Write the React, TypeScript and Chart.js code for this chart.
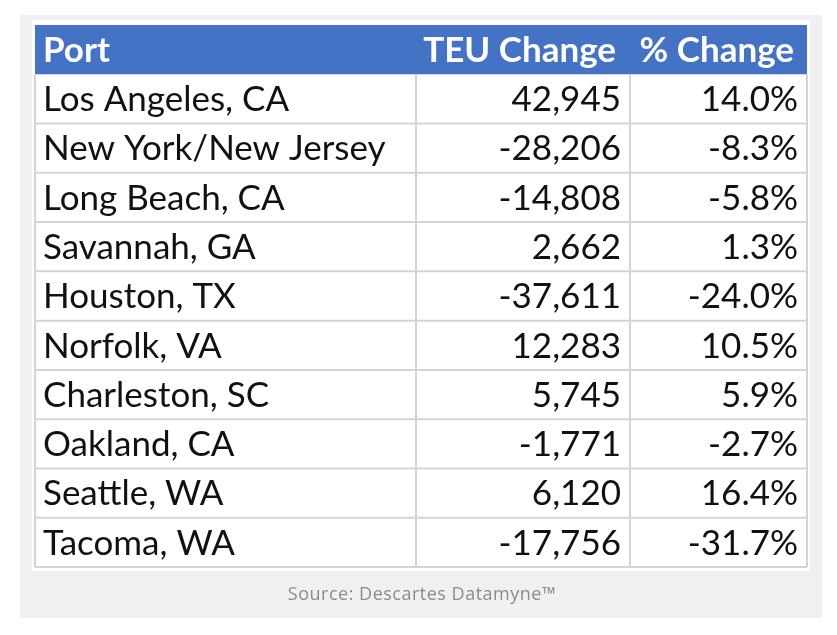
import { useEffect, useRef } from "react";
import { Chart, registerables } from "chart.js";

Chart.register(...registerables);

const headers = ["Port", "TEU Change", "% Change"];
const ports = [
  "Los Angeles, CA",
  "New York/New Jersey",
  "Long Beach, CA",
  "Savannah, GA",
  "Houston, TX",
  "Norfolk, VA",
  "Charleston, SC",
  "Oakland, CA",
  "Seattle, WA",
  "Tacoma, WA",
];
const teuChange = [42945, -28206, -14808, 2662, -37611, 12283, 5745, -1771, 6120, -17756];
const pctChange = [14.0, -8.3, -5.8, 1.3, -24.0, 10.5, 5.9, -2.7, 16.4, -31.7];
const sourceText = "Source: Descartes Datamyne\u2122";

// layout (not data): column edges in x-scale units
const COL_EDGES = [0, 381, 595, 772];
const FONT = "Lato, 'Open Sans', sans-serif";

const fmtTeu = (v: number) => v.toLocaleString("en-US");
const fmtPct = (v: number) => v.toFixed(1) + "%";

const tablePlugin = {
  id: "tablePlugin",
  beforeDraw(chart: any) {
    const { ctx, width, height } = chart;
    ctx.save();
    ctx.fillStyle = "#ffffff";
    ctx.fillRect(0, 0, width, height);
    ctx.fillStyle = "#f0f0f0";
    ctx.fillRect(20, 15, 802, 603);
    ctx.fillStyle = "#ffffff";
    ctx.fillRect(32, 20, 778, 551);
    ctx.restore();
  },
  afterDatasetsDraw(chart: any) {
    const { ctx } = chart;
    const xs = chart.scales.x;
    const ys = chart.scales.y;
    const nRows = ports.length + 1;
    const colPx = COL_EDGES.map((v) => xs.getPixelForValue(v));
    const rowPx = Array.from({ length: nRows + 1 }, (_, i) => ys.getPixelForValue(i));
    const left = colPx[0];
    const right = colPx[colPx.length - 1];

    ctx.save();
    // header
    ctx.fillStyle = "#4472c4";
    ctx.fillRect(left, rowPx[0], right - left, rowPx[1] - rowPx[0]);

    // grid lines
    ctx.strokeStyle = "#d4d4d4";
    ctx.lineWidth = 2;
    ctx.beginPath();
    for (let i = 2; i <= nRows; i++) {
      ctx.moveTo(left, rowPx[i]);
      ctx.lineTo(right, rowPx[i]);
    }
    for (let c = 0; c < colPx.length; c++) {
      ctx.moveTo(colPx[c], rowPx[1]);
      ctx.lineTo(colPx[c], rowPx[nRows]);
    }
    ctx.stroke();

    // header text
    const midY = (i: number) => (rowPx[i] + rowPx[i + 1]) / 2 + 1;
    ctx.textBaseline = "middle";
    ctx.fillStyle = "#ffffff";
    ctx.font = `bold 35px ${FONT}`;
    ctx.textAlign = "left";
    ctx.fillText(headers[0], colPx[0] + 8, midY(0));
    ctx.textAlign = "right";
    ctx.fillText(headers[1], colPx[2] - 14, midY(0));
    ctx.fillText(headers[2], colPx[3] - 13, midY(0));

    // body
    ctx.fillStyle = "#111111";
    ctx.font = `35px ${FONT}`;
    for (let r = 0; r < ports.length; r++) {
      const y = midY(r + 1);
      ctx.textAlign = "left";
      ctx.fillText(ports[r], colPx[0] + 8, y);
      ctx.textAlign = "right";
      ctx.fillText(fmtTeu(teuChange[r]), colPx[2] - 9, y);
      ctx.fillText(fmtPct(pctChange[r]), colPx[3] - 9, y);
    }

    // source
    ctx.fillStyle = "#8c8c8c";
    ctx.font = `18px 'Open Sans', sans-serif`;
    (ctx as any).letterSpacing = "0.5px";
    ctx.textAlign = "center";
    ctx.fillText(sourceText, 422, 595);
    ctx.restore();
  },
};

export default function App() {
  const ref = useRef<HTMLCanvasElement | null>(null);
  useEffect(() => {
    if (!ref.current) return;
    const chart = new Chart(ref.current, {
      type: "scatter",
      data: {
        datasets: [
          {
            data: ports.map((_, i) => ({ x: COL_EDGES[0], y: i + 1 })),
            pointRadius: 0,
          },
        ],
      },
      options: {
        responsive: false,
        animation: false,
        layout: { padding: { left: 35, top: 25, right: 30, bottom: 68 } },
        plugins: { legend: { display: false }, tooltip: { enabled: false } },
        scales: {
          x: { type: "linear", min: COL_EDGES[0], max: COL_EDGES[COL_EDGES.length - 1], display: false },
          y: { type: "linear", min: 0, max: ports.length + 1, reverse: true, display: false },
        },
      },
      plugins: [tablePlugin],
    });
    return () => chart.destroy();
  }, []);
  return (
    <div style={{ position: "fixed", left: 0, top: 0, width: 837, height: 635 }}>
      <canvas ref={ref} width={837} height={635} />
    </div>
  );
}
